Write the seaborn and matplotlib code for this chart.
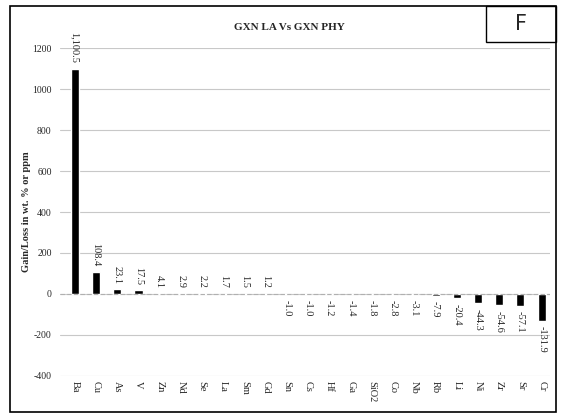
import matplotlib
matplotlib.use("Agg")
import matplotlib.pyplot as plt
import seaborn as sns
import pandas as pd
from matplotlib.patches import Rectangle

elements = ["Ba", "Cu", "As", "V", "Zn", "Nd", "Se", "La", "Sm", "Gd", "Sn", "Cs",
            "Hf", "Ga", "SiO2", "Co", "Nb", "Rb", "Li", "Ni", "Zr", "Sr", "Cr"]
change = [1100.5, 108.4, 23.1, 17.5, 4.1, 2.9, 2.2, 1.7, 1.5, 1.2, -1.0, -1.0,
          -1.2, -1.4, -1.8, -2.8, -3.1, -7.9, -20.4, -44.3, -54.6, -57.1, -131.9]
value_labels = ["1,100.5", "108.4", "23.1", "17.5", "4.1", "2.9", "2.2", "1.7", "1.5",
                "1.2", "-1.0", "-1.0", "-1.2", "-1.4", "-1.8", "-2.8", "-3.1", "-7.9",
                "-20.4", "-44.3", "-54.6", "-57.1", "-131.9"]
y_ticks = [-400, -200, 0, 200, 400, 600, 800, 1000, 1200]

df = pd.DataFrame({"element": elements, "change": change})

sns.set_theme(style="white")
plt.rcParams["font.family"] = ["Liberation Serif", "DejaVu Serif"]

fig = plt.figure(figsize=(5.66, 4.19), dpi=100)
ax = fig.add_axes([0.106, 0.103, 0.866, 0.782])

sns.barplot(data=df, x="element", y="change", color="black", width=0.38,
            saturation=1, ax=ax)

ax.set_ylim(-400, 1200)
ax.set_xlim(-0.7, len(elements) - 0.6)
ax.set_yticks(y_ticks)
ax.set_yticklabels([str(t) for t in y_ticks], fontsize=7)
ax.yaxis.grid(True, color="#c8c8c8", linewidth=0.8)
ax.set_axisbelow(True)
ax.axhline(0, color="#b0b0b0", linewidth=0.8, linestyle=(0, (4, 2)), zorder=1)
for s in ax.spines.values():
    s.set_visible(False)
ax.tick_params(axis="y", length=0, pad=6)
ax.tick_params(axis="x", length=0, pad=4)
ax.set_xticks(range(len(elements)))
ax.set_xticklabels(elements, rotation=270, fontsize=7.5)
ax.set_xlabel("")
ax.set_ylabel("Gain/Loss in wt. % or ppm", fontsize=7.5, fontweight="bold", labelpad=1)

for i, (v, lab) in enumerate(zip(change, value_labels)):
    if v >= 0:
        ax.annotate(lab, (i, v), xytext=(0, 4), textcoords="offset points",
                    rotation=270, ha="center", va="bottom", fontsize=7.5,
                    annotation_clip=False)
    else:
        ax.annotate(lab, (i, v), xytext=(0, -4), textcoords="offset points",
                    rotation=270, ha="center", va="top", fontsize=7.5,
                    annotation_clip=False)

fig.text(0.512, 0.934, "GXN LA Vs GXN PHY", ha="center", va="center",
         fontsize=8, fontweight="bold")

# outer frame around the whole chart
fig.patches.append(Rectangle((0.018, 0.017), 0.964, 0.968, transform=fig.transFigure,
                             fill=False, edgecolor="black", linewidth=1.2))
# panel letter box
fig.patches.append(Rectangle((0.858, 0.9), 0.124, 0.085, transform=fig.transFigure,
                             fill=False, edgecolor="black", linewidth=1.0))
fig.text(0.92, 0.942, "F", ha="center", va="center", fontsize=15,
         family=["DejaVu Sans"])

fig.savefig("out.png", dpi=100, facecolor="white")
